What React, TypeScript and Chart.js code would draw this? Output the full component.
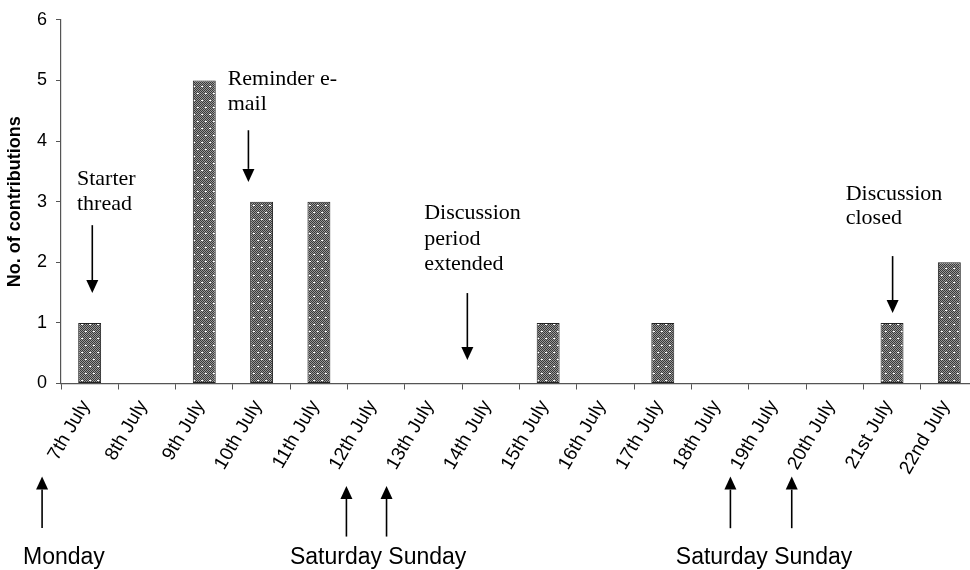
import { useEffect, useRef } from 'react';
import { Chart, registerables } from 'chart.js';

Chart.register(...registerables);

// ---------- data ----------
const categories = [
  '7th July', '8th July', '9th July', '10th July', '11th July', '12th July',
  '13th July', '14th July', '15th July', '16th July', '17th July', '18th July',
  '19th July', '20th July', '21st July', '22nd July',
];
const contributions = [1, 0, 5, 3, 3, 0, 0, 0, 1, 0, 1, 0, 0, 0, 1, 2];
const yMin = 0;
const yMax = 6;
const yStep = 1;
const yAxisTitle = 'No. of contributions';

// events above the bars (x in category index units, y in value units)
const eventLines = [['Starter', 'thread'], ['Reminder e-', 'mail'], ['Discussion', 'period', 'extended'], ['Discussion', 'closed']];
const eventTextX = [-0.221, 2.408, 5.837, 13.192];
const eventTextY = [[3.272, 2.86], [4.92, 4.508], [2.706, 2.283, 1.871], [3.033, 2.637]];
const eventArrowX = [0.046, 2.77, 6.59, 14.01];
const eventArrowFrom = [2.612, 4.178, 1.492, 2.102];
const eventArrowTo = [1.492, 3.326, 0.387, 1.162];

// weekday markers below the axis
const dayLabels = ['Monday', 'Saturday Sunday', 'Saturday Sunday'];
const dayLabelX = [-1.163, 3.494, 10.227];
const dayLabelY = [-2.98, -2.98, -2.98];
const dayArrowX = [-0.83, 4.48, 5.18, 11.18, 12.25];
const dayArrowFrom = [-2.382, -2.525, -2.525, -2.387, -2.387];
const dayArrowTo = [-1.536, -1.69, -1.69, -1.536, -1.536];

function makePattern(): CanvasPattern | string {
  const c = document.createElement('canvas');
  c.width = 8;
  c.height = 14;
  const g = c.getContext('2d');
  if (!g) return '#777';
  for (let y = 0; y < 14; y++) {
    for (let x = 0; x < 8; x++) {
      g.fillStyle = (x + y) % 2 === 0 ? '#383838' : '#989898';
      g.fillRect(x, y, 1, 1);
    }
  }
  g.fillStyle = '#ffffff';
  g.fillRect(1, 2, 2, 1);
  g.fillRect(5, 9, 2, 1);
  const p = g.createPattern(c, 'repeat');
  return p || '#777';
}

function drawArrow(ctx: CanvasRenderingContext2D, x: number, yFrom: number, yTip: number) {
  const head = 13;
  const half = 6;
  const dir = yTip > yFrom ? 1 : -1;
  ctx.save();
  ctx.strokeStyle = '#000';
  ctx.fillStyle = '#000';
  ctx.lineWidth = 1.6;
  ctx.beginPath();
  ctx.moveTo(x, yFrom);
  ctx.lineTo(x, yTip - dir * head);
  ctx.stroke();
  ctx.beginPath();
  ctx.moveTo(x, yTip);
  ctx.lineTo(x - half, yTip - dir * head);
  ctx.lineTo(x + half, yTip - dir * head);
  ctx.closePath();
  ctx.fill();
  ctx.restore();
}

const annotationPlugin = {
  id: 'annotations',
  afterDraw(chart: any) {
    const ctx: CanvasRenderingContext2D = chart.ctx;
    const xs = chart.scales.x;
    const ys = chart.scales.y;
    ctx.save();
    ctx.textBaseline = 'alphabetic';
    ctx.textAlign = 'left';
    ctx.fillStyle = '#000';
    ctx.font = '22px "Liberation Serif", "Times New Roman", serif';
    eventLines.forEach((lines, i) => {
      lines.forEach((t, j) => {
        ctx.fillText(t, xs.getPixelForValue(eventTextX[i]), ys.getPixelForValue(eventTextY[i][j]));
      });
      drawArrow(ctx, xs.getPixelForValue(eventArrowX[i]), ys.getPixelForValue(eventArrowFrom[i]), ys.getPixelForValue(eventArrowTo[i]));
    });
    ctx.font = '23px "Liberation Sans", Arial, sans-serif';
    dayLabels.forEach((t, i) => {
      ctx.fillText(t, xs.getPixelForValue(dayLabelX[i]), ys.getPixelForValue(dayLabelY[i]));
    });
    dayArrowX.forEach((ax, i) => {
      drawArrow(ctx, xs.getPixelForValue(ax), ys.getPixelForValue(dayArrowFrom[i]), ys.getPixelForValue(dayArrowTo[i]));
    });
    ctx.restore();
  },
};

export default function App() {
  const ref = useRef<HTMLCanvasElement | null>(null);

  useEffect(() => {
    if (!ref.current) return;
    const W = 1000;
    const H = 570;
    const chart = new Chart(ref.current, {
      type: 'bar',
      data: {
        labels: categories,
        datasets: [
          {
            data: contributions,
            backgroundColor: makePattern() as any,
            borderColor: '#222',
            borderWidth: 1,
            borderSkipped: false,
            barPercentage: 0.4,
            categoryPercentage: 1,
          },
        ],
      },
      options: {
        responsive: false,
        animation: false,
        devicePixelRatio: 1,
        layout: { padding: { top: 19.5, right: W - 978, bottom: 0, left: 0 } },
        plugins: { legend: { display: false }, tooltip: { enabled: false } },
        scales: {
          x: {
            offset: true,
            grid: { offset: true, drawOnChartArea: false, tickLength: 6, color: '#555' },
            border: { color: '#555', width: 1.2 },
            ticks: {
              autoSkip: false,
              minRotation: 60,
              maxRotation: 60,
              padding: 7,
              labelOffset: -4,
              color: '#000',
              font: { family: '"Liberation Sans", Arial, sans-serif', size: 19 },
            },
            afterFit: (s: any) => {
              s.height = H - 383.5;
            },
          },
          y: {
            min: yMin,
            max: yMax,
            grid: { drawOnChartArea: false, tickLength: 5, color: '#555' },
            border: { color: '#555', width: 1.2 },
            ticks: {
              stepSize: yStep,
              padding: 9,
              color: '#000',
              font: { family: '"Liberation Sans", Arial, sans-serif', size: 18 },
            },
            title: {
              display: true,
              text: yAxisTitle,
              color: '#000',
              padding: { top: 4, bottom: 0 },
              font: { family: '"Liberation Sans", Arial, sans-serif', size: 18, weight: 'bold' },
            },
            afterFit: (s: any) => {
              s.width = 61;
            },
          },
        },
      } as any,
      plugins: [annotationPlugin],
    });
    return () => chart.destroy();
  }, []);

  return (
    <div style={{ position: 'fixed', left: 0, top: 0, width: 970, height: 570, overflow: 'hidden', background: '#fff' }}>
      <canvas ref={ref} width={1000} height={570} style={{ width: 1000, height: 570, display: 'block' }} />
    </div>
  );
}
